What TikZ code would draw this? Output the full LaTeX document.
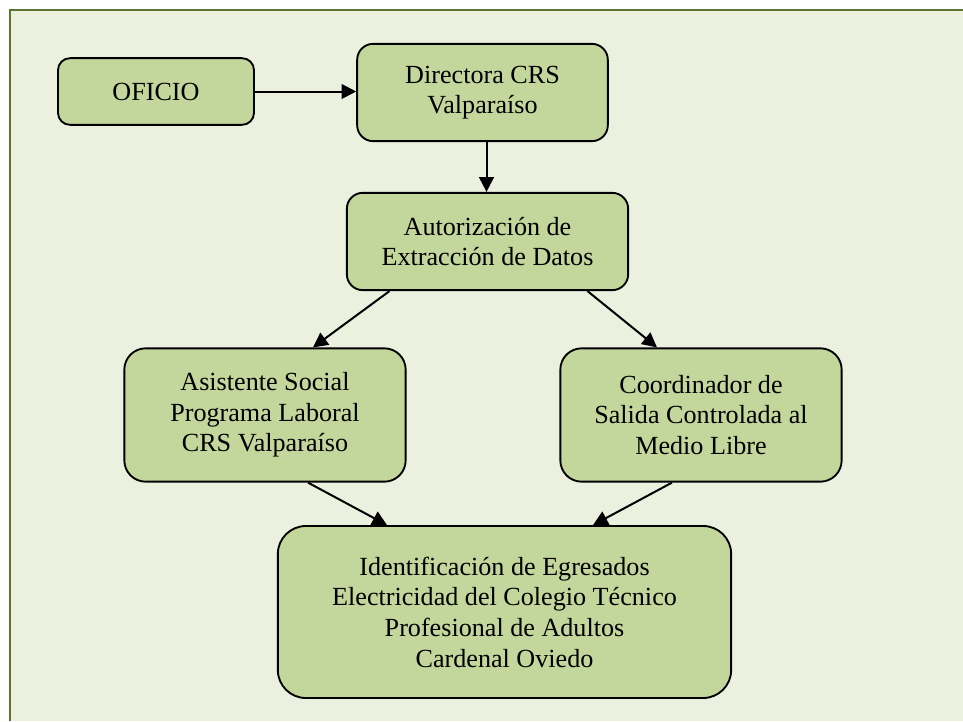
\documentclass[tikz,border=0pt]{standalone}
\usepackage{fontspec}
\setmainfont{Liberation Serif}
\usetikzlibrary{arrows.meta,calc}
\definecolor{fondo}{HTML}{EBF1DE}
\definecolor{marco}{HTML}{5E7530}
\definecolor{verde}{HTML}{C3D69B}
\begin{document}
\begin{tikzpicture}[x=0.75pt,y=-0.75pt,>={Triangle[length=11pt,width=11pt]},
	caja/.style={draw,line width=1.4pt,fill=verde,align=center,inner sep=0pt,
		font=\fontsize{19.6}{23}\selectfont},
	flecha/.style={->,line width=1.5pt}]
		\useasboundingbox (0,0) rectangle (963,721);
		\fill[fondo] (10,10) rectangle (963,721);
		\draw[marco,line width=1.6pt] (10,721)--(10,10)--(963,10);
		% cajas
		\node[caja,rounded corners=9pt,minimum width=147pt,minimum height=50pt] (oficio) at (156,91.5) {OFICIO};
		\node[caja,rounded corners=12pt,minimum width=188pt,minimum height=73pt] (directora) at (482.5,92.5) {Directora CRS\\Valparaíso};
		\node[caja,rounded corners=12pt,minimum width=211pt,minimum height=73pt] (autoriza) at (487.5,241.5) {Autorización de\\Extracción de Datos};
		\node[caja,rounded corners=16pt,minimum width=211pt,minimum height=100pt] (asistente) at (265,415) {Asistente Social\\Programa Laboral\\CRS Valparaíso};
		\node[caja,rounded corners=16pt,minimum width=211pt,minimum height=100pt] (coordina) at (701,415) {Coordinador de\\Salida Controlada al\\Medio Libre};
		\node[caja,rounded corners=21pt,minimum width=340pt,minimum height=129pt] (ident) at (504.5,612) {Identificación de Egresados\\Electricidad del Colegio Técnico\\Profesional de Adultos\\Cardenal Oviedo};
		% flechas
		\draw[flecha] (oficio.east) -- (oficio.east -| directora.west);
		\draw[flecha] ($(directora.south)+(4,0)$) -- (autoriza.north -| {$(directora.south)+(4,0)$});
		\draw[flecha] ($(autoriza.south)+(-98,0)$) -- ($(asistente.north)+(48,0)$);
		\draw[flecha] ($(autoriza.south)+(100,0)$) -- ($(coordina.north)+(-44,0)$);
		\draw[flecha] ($(asistente.south)+(43,0)$) -- ($(ident.north)+(-117.5,0)$);
		\draw[flecha] ($(coordina.south)+(-29,0)$) -- ($(ident.north)+(88.5,0)$);
\end{tikzpicture}
\end{document}
